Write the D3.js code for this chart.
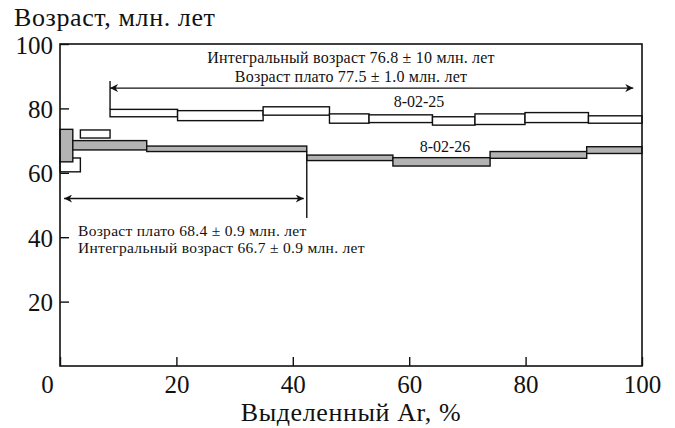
<!DOCTYPE html>
<html><head><meta charset="utf-8">
<script src="https://cdn.jsdelivr.net/npm/d3@7"></script>
<style>
html,body{margin:0;padding:0;background:#fff;}
svg{display:block;}
text{font-family:"Liberation Serif","Times New Roman",serif;fill:#111;}
</style></head>
<body>
<svg id="c" width="675" height="428"></svg>
<script>
// ---- data ----
const xTicks = [0, 20, 40, 60, 80, 100];
const yTicks = [20, 40, 60, 80, 100];
// sample 8-02-25 (open boxes): cumulative %39Ar step edges, age upper / lower (Ma)
const s25Edges = [0, 3.5, 8.6, 20.2, 34.9, 46.3, 53.1, 64.0, 71.3, 79.9, 90.8, 100];
const s25Hi = [64.6, 73.3, 79.7, 79.3, 80.5, 78.3, 78.0, 77.4, 78.3, 78.7, 77.7];
const s25Lo = [60.3, 70.8, 77.4, 76.2, 77.9, 75.4, 75.6, 74.8, 75.0, 75.6, 75.4];
// sample 8-02-26 (grey boxes)
const s26Edges = [0, 2.2, 14.9, 42.4, 57.2, 73.9, 90.5, 100];
const s26Hi = [73.5, 70.0, 68.3, 65.5, 64.7, 66.6, 68.1];
const s26Lo = [63.4, 67.1, 66.6, 63.8, 62.1, 64.5, 66.0];
// plateau ranges (% start, % end, arrow age level)
const plateau25 = {from: 8.6, to: 98.5, level: 86.3, text: ["Интегральный возраст 76.8 ± 10 млн. лет", "Возраст плато 77.5 ± 1.0 млн. лет"], label: "8-02-25"};
const plateau26 = {from: 0.7, to: 42.4, level: 52.0, text: ["Возраст плато 68.4 ± 0.9 млн. лет", "Интегральный возраст 66.7 ± 0.9 млн. лет"], label: "8-02-26"};

// ---- drawing ----
const svg = d3.select("#c");
const x = d3.scaleLinear().domain([0, 100]).range([60, 642]);
const y = d3.scaleLinear().domain([0, 100]).range([366, 44]);

const defs = svg.append("defs");
defs.append("marker").attr("id", "ah").attr("viewBox", "0 0 10 10").attr("refX", 10).attr("refY", 5)
  .attr("markerWidth", 14).attr("markerHeight", 8).attr("markerUnits", "userSpaceOnUse").attr("orient", "auto-start-reverse")
  .append("path").attr("d", "M0,0 L10,5 L0,10 L3,5 Z").attr("fill", "#111");

function steps(edges, hi, lo) {
  return hi.map((h, i) => ({x0: edges[i], x1: edges[i + 1], hi: h, lo: lo[i]}));
}

// open boxes 8-02-25
svg.append("g").selectAll("rect").data(steps(s25Edges, s25Hi, s25Lo)).join("rect")
  .attr("x", d => x(d.x0)).attr("width", d => x(d.x1) - x(d.x0))
  .attr("y", d => y(d.hi)).attr("height", d => y(d.lo) - y(d.hi))
  .attr("fill", "#fff").attr("stroke", "#111").attr("stroke-width", 1.4);

// grey boxes 8-02-26
svg.append("g").selectAll("rect").data(steps(s26Edges, s26Hi, s26Lo)).join("rect")
  .attr("x", d => x(d.x0)).attr("width", d => x(d.x1) - x(d.x0))
  .attr("y", d => y(d.hi)).attr("height", d => y(d.lo) - y(d.hi))
  .attr("fill", "#b3b3b3").attr("stroke", "#111").attr("stroke-width", 1.4);

// frame
svg.append("rect").attr("x", x(0)).attr("y", y(100)).attr("width", x(100) - x(0)).attr("height", y(0) - y(100))
  .attr("fill", "none").attr("stroke", "#111").attr("stroke-width", 1.6);

// axes
const yAxis = d3.axisLeft(y).tickValues(yTicks).tickSizeInner(-9).tickSizeOuter(0).tickPadding(7);
const gy = svg.append("g").attr("transform", `translate(${x(0)},0)`).call(yAxis);
gy.select(".domain").remove();
gy.selectAll("line").attr("stroke", "#111").attr("stroke-width", 1.4);
gy.selectAll("text").attr("font-size", 25).attr("font-family", "Liberation Serif").attr("dy", "0.36em").attr("fill", "#111");

const xAxis = d3.axisBottom(x).tickValues(xTicks).tickSizeInner(-9).tickSizeOuter(0).tickPadding(9);
const gx = svg.append("g").attr("transform", `translate(0,${y(0)})`).call(xAxis);
gx.select(".domain").remove();
gx.selectAll("line").attr("stroke", "#111").attr("stroke-width", 1.4);
gx.selectAll("text").attr("font-size", 25).attr("font-family", "Liberation Serif").attr("fill", "#111")
  .attr("dx", d => d === 0 ? -13 : 0);

// axis titles
svg.append("text").attr("x", 14).attr("y", 26).attr("font-size", 26).attr("letter-spacing", 0.6).text("Возраст, млн. лет");
svg.append("text").attr("x", 351).attr("y", 421).attr("text-anchor", "middle").attr("font-size", 26).attr("letter-spacing", 0.6).text("Выделенный Ar, %");

// plateau 25
svg.append("line").attr("x1", x(plateau25.from)).attr("x2", x(plateau25.from))
  .attr("y1", y(88.5)).attr("y2", y(s25Hi[2])).attr("stroke", "#111").attr("stroke-width", 1.4);
svg.append("line").attr("x1", x(plateau25.from)).attr("x2", x(plateau25.to))
  .attr("y1", y(plateau25.level)).attr("y2", y(plateau25.level)).attr("stroke", "#111").attr("stroke-width", 1.4)
  .attr("marker-start", "url(#ah)").attr("marker-end", "url(#ah)");
svg.append("text").attr("x", 351).attr("y", 63).attr("text-anchor", "middle").attr("font-size", 16).attr("letter-spacing", 0.2).text(plateau25.text[0]);
svg.append("text").attr("x", 351).attr("y", 82).attr("text-anchor", "middle").attr("font-size", 16).attr("letter-spacing", 0.2).text(plateau25.text[1]);
svg.append("text").attr("x", 419).attr("y", 107).attr("text-anchor", "middle").attr("font-size", 16).text(plateau25.label);

// plateau 26
svg.append("line").attr("x1", x(plateau26.to)).attr("x2", x(plateau26.to))
  .attr("y1", y(s26Lo[2])).attr("y2", y(46)).attr("stroke", "#111").attr("stroke-width", 1.4);
svg.append("line").attr("x1", x(plateau26.from)).attr("x2", x(plateau26.to) - 3)
  .attr("y1", y(plateau26.level)).attr("y2", y(plateau26.level)).attr("stroke", "#111").attr("stroke-width", 1.4)
  .attr("marker-start", "url(#ah)").attr("marker-end", "url(#ah)");
svg.append("text").attr("x", 78).attr("y", 236).attr("font-size", 15.5).attr("letter-spacing", 0.3).text(plateau26.text[0]);
svg.append("text").attr("x", 78).attr("y", 253).attr("font-size", 15.5).attr("letter-spacing", 0.3).text(plateau26.text[1]);
svg.append("text").attr("x", 445).attr("y", 152).attr("text-anchor", "middle").attr("font-size", 16).text(plateau26.label);
</script>
</body></html>
